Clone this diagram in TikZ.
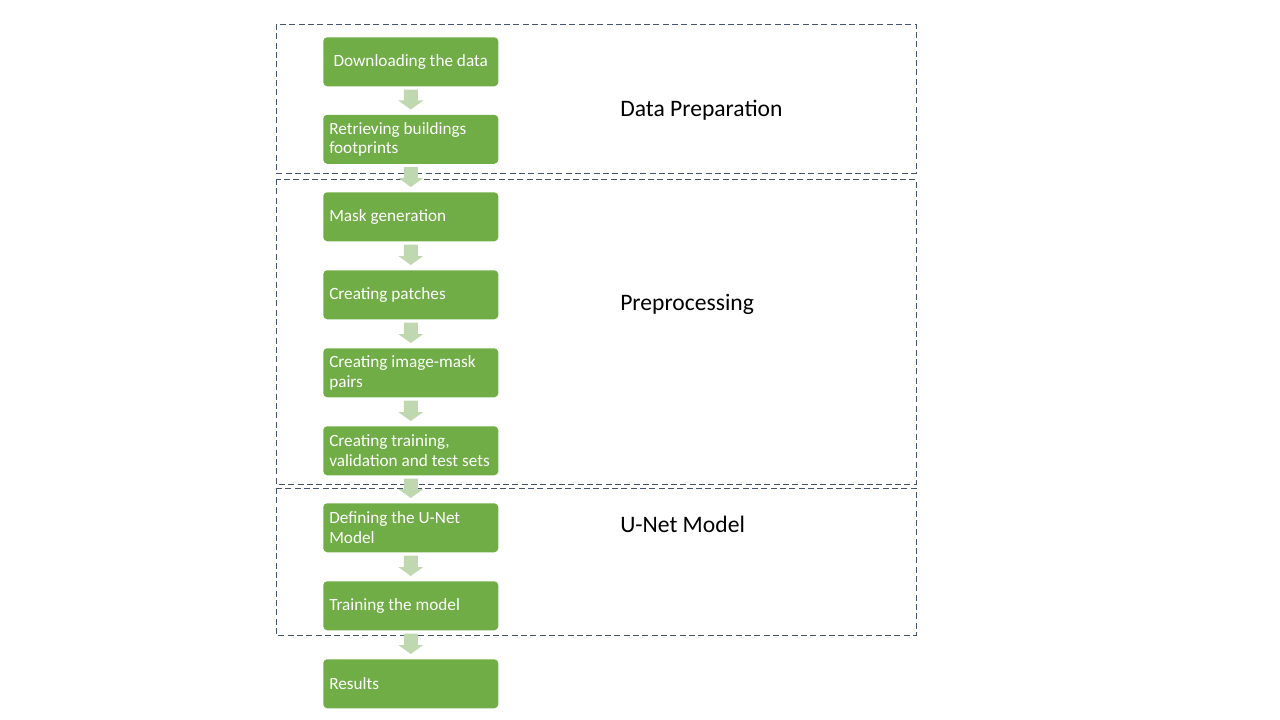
\documentclass[tikz,border=0pt]{standalone}
\usepackage{fontspec}
\setmainfont{Carlito}
\definecolor{boxgreen}{HTML}{70AD47}
\definecolor{arrgreen}{HTML}{C0D8B0}
\definecolor{dashblue}{HTML}{44546A}
\begin{document}
\begin{tikzpicture}[x=0.75pt,y=-0.75pt,
  stepbox/.style={draw=none,fill=boxgreen,rounded corners=3pt,minimum width=175*0.75pt,
    minimum height=49*0.75pt,inner sep=0pt,text=white,anchor=north west},
  steptext/.style={font=\fontsize{12.9}{14.6}\selectfont,text=white,align=left,anchor=west,inner sep=0pt},
  group/.style={draw=dashblue,dash pattern=on 4.5pt off 2.5pt,line width=0.7pt},
  grouplabel/.style={font=\fontsize{17.7}{21}\selectfont,anchor=west,inner sep=0pt}]
\useasboundingbox (0,0) rectangle (1280,720);
% group boxes
\draw[group] (276,24) rectangle (916,173);
\draw[group] (276,179) rectangle (916,484);
\draw[group] (276,488) rectangle (916,635);
\node[grouplabel] (lab1) at (620,110) {Data Preparation};
\node[grouplabel] (lab2) at (620,304) {Preprocessing};
\node[grouplabel] (lab3) at (620,524) {U-Net Model};
% boxes
\node[stepbox] (b1) at (323,37) {};
\node[stepbox] (b2) at (323,114.5) {};
\node[stepbox] (b3) at (323,192) {};
\node[stepbox] (b4) at (323,270) {};
\node[stepbox] (b5) at (323,348) {};
\node[stepbox] (b6) at (323,426) {};
\node[stepbox] (b7) at (323,503) {};
\node[stepbox] (b8) at (323,581) {};
\node[stepbox] (b9) at (323,659) {};
\node[font=\fontsize{12.9}{15}\selectfont,text=white] (t1) at (b1.center) {Downloading the data};
\node[steptext] (t2) at ([xshift=6*0.75pt]b2.west) {Retrieving buildings\\footprints};
\node[steptext] (t3) at ([xshift=6*0.75pt]b3.west) {Mask generation};
\node[steptext] (t4) at ([xshift=6*0.75pt]b4.west) {Creating patches};
\node[steptext] (t5) at ([xshift=6*0.75pt]b5.west) {Creating image-mask\\pairs};
\node[steptext] (t6) at ([xshift=6*0.75pt]b6.west) {Creating training,\\validation and test sets};
\node[steptext] (t7) at ([xshift=6*0.75pt]b7.west) {Defining the U-Net\\Model};
\node[steptext] (t8) at ([xshift=6*0.75pt]b8.west) {Training the model};
\node[steptext] (t9) at ([xshift=6*0.75pt]b9.west) {Results};
% block arrows
\foreach \a/\b in {b1/b2,b2/b3,b3/b4,b4/b5,b5/b6,b6/b7,b7/b8,b8/b9}{
  \path ([yshift=-3*0.75pt]\a.south) coordinate (s) ([yshift=5*0.75pt]\b.north) coordinate (e);
  \fill[arrgreen] ([xshift=-7*0.75pt]s) -- ([xshift=7*0.75pt]s)
    -- ([xshift=7*0.75pt,yshift=9*0.75pt]e) -- ([xshift=12.5*0.75pt,yshift=9*0.75pt]e)
    -- (e) -- ([xshift=-12.5*0.75pt,yshift=9*0.75pt]e) -- ([xshift=-7*0.75pt,yshift=9*0.75pt]e) -- cycle;
}
\end{tikzpicture}
\end{document}
